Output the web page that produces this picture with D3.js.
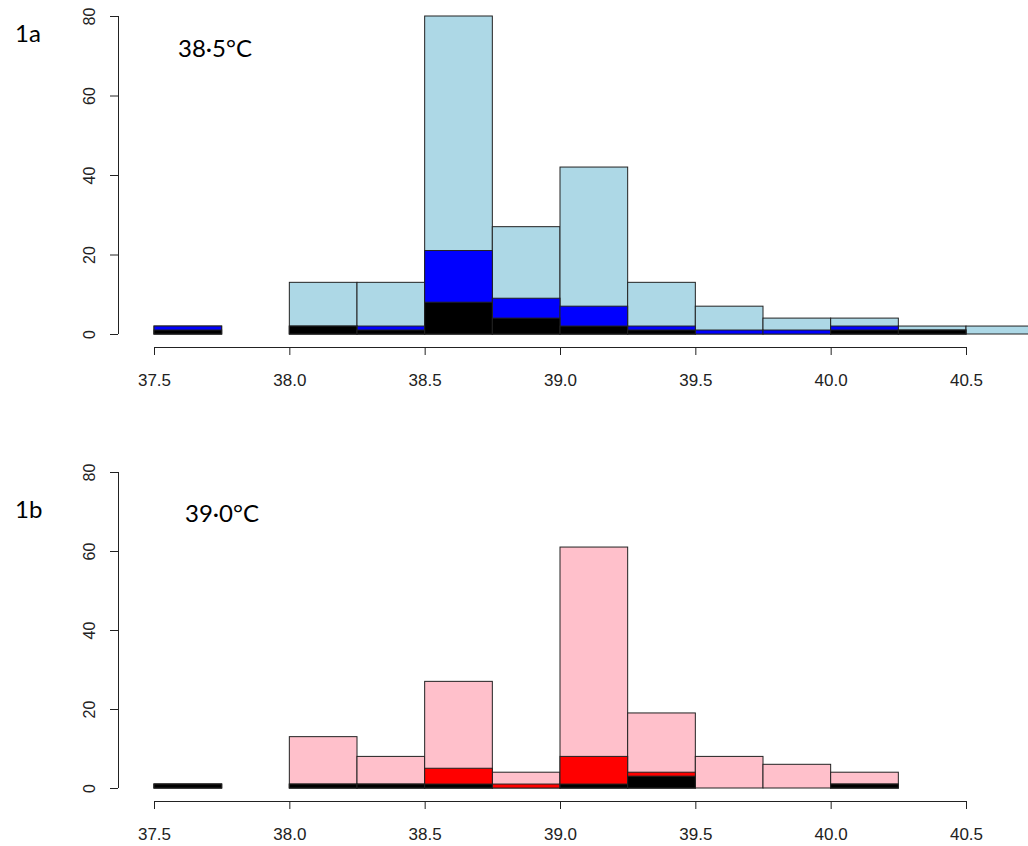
<!DOCTYPE html>
<html>
<head>
<meta charset="utf-8">
<script src="https://cdn.jsdelivr.net/npm/d3@7"></script>
<style>
  body { margin: 0; background: #fff; }
  svg { display: block; }
</style>
</head>
<body>
<div id="chart-container"></div>
<script>
// bins are 0.25 wide, starting at 37.5
var binStarts = [37.5, 37.75, 38.0, 38.25, 38.5, 38.75, 39.0, 39.25, 39.5, 39.75, 40.0, 40.25, 40.5];
var binWidth = 0.25;

// 1a: 38.5 threshold
var totalA = [2, 0, 13, 13, 80, 27, 42, 13, 7, 4, 4, 2, 2];
var blueA  = [2, 0, 2, 2, 21, 9, 7, 2, 1, 1, 2, 1, 0];
var blackA = [1, 0, 2, 1, 8, 4, 2, 1, 0, 0, 1, 1, 0];

// 1b: 39.0 threshold
var totalB = [1, 0, 13, 8, 27, 4, 61, 19, 8, 6, 4, 0, 0];
var redB   = [1, 0, 1, 1, 5, 1, 8, 4, 0, 0, 1, 0, 0];
var blackB = [1, 0, 1, 1, 1, 0, 1, 3, 0, 0, 1, 0, 0];

var xTicks = [37.5, 38.0, 38.5, 39.0, 39.5, 40.0, 40.5];
var yTicks = [0, 20, 40, 60, 80];

function translateString(x, y) {
  return 'translate(' + x + ', ' + y + ')';
}

var width = 1028;
var height = 846;

var svg = d3.select('#chart-container').append('svg')
  .attr('width', width)
  .attr('height', height)
  .attr('viewBox', '0 0 ' + width + ' ' + height);

var xScale = d3.scaleLinear()
  .domain([37.5, 40.5])
  .range([154, 966]);

function drawPanel(opts) {
  var yScale = d3.scaleLinear()
    .domain([0, 80])
    .range([opts.bottom, opts.top]);

  var g = svg.append('g');

  opts.layers.forEach(function(layer) {
    g.append('g').selectAll('rect')
      .data(binStarts.map(function(b, i) { return {x0: b, n: layer.values[i]}; }))
      .enter()
      .append('rect')
        .attr('x', function(d) { return xScale(d.x0); })
        .attr('width', function(d) { return xScale(d.x0 + binWidth) - xScale(d.x0); })
        .attr('y', function(d) { return yScale(d.n); })
        .attr('height', function(d) { return yScale(0) - yScale(d.n); })
        .attr('fill', layer.color)
        .attr('stroke', '#222')
        .attr('stroke-width', 1);
  });

  // R style axes: detached from the plot, lines only span the ticks
  var yAxis = d3.axisLeft(yScale)
    .tickValues(yTicks)
    .tickSize(8)
    .tickSizeOuter(0)
    .tickFormat(d3.format('d'));

  var yAxisContainer = svg.append('g')
    .attr('transform', translateString(118, 0))
    .call(yAxis);

  yAxisContainer.select('.domain')
    .attr('d', 'M0.5,' + yScale(0) + 'V' + yScale(80));

  yAxisContainer.selectAll('.tick text')
    .attr('x', 0)
    .attr('y', 0)
    .attr('dy', 0)
    .attr('text-anchor', 'middle')
    .attr('font-size', 16)
    .attr('transform', function() { return translateString(-23, 0) + ' rotate(-90)'; });

  var xAxis = d3.axisBottom(xScale)
    .tickValues(xTicks)
    .tickSize(8)
    .tickSizeOuter(0)
    .tickFormat(d3.format('.1f'));

  var xAxisContainer = svg.append('g')
    .attr('transform', translateString(0, opts.axisY))
    .call(xAxis);

  xAxisContainer.select('.domain')
    .attr('d', 'M' + xScale(37.5) + ',0.5H' + xScale(40.5));

  xAxisContainer.selectAll('.tick text')
    .attr('y', 0)
    .attr('dy', 0)
    .attr('font-size', 17)
    .attr('transform', translateString(0, 39));

  svg.selectAll('.tick text')
    .attr('font-family', '"Liberation Sans", Arial, sans-serif')
    .attr('fill', '#222');
  svg.selectAll('.tick line, .domain')
    .attr('stroke', '#222');

  svg.append('text')
    .attr('x', 15)
    .attr('y', opts.tagY)
    .attr('font-family', 'Lato, "Open Sans", sans-serif')
    .attr('font-size', 24)
    .text(opts.tag);

  svg.append('text')
    .attr('x', opts.labelX)
    .attr('y', opts.labelY)
    .attr('font-family', 'Lato, "Open Sans", sans-serif')
    .attr('font-size', 24)
    .text(opts.label);
}

drawPanel({
  top: 16,
  bottom: 334,
  axisY: 347,
  layers: [
    {values: totalA, color: '#add8e6'},
    {values: blueA, color: '#0000ff'},
    {values: blackA, color: '#000000'}
  ],
  tag: '1a',
  tagY: 42,
  label: '38·5°C',
  labelX: 178,
  labelY: 57
});

drawPanel({
  top: 472,
  bottom: 788,
  axisY: 801,
  layers: [
    {values: totalB, color: '#ffc0cb'},
    {values: redB, color: '#ff0000'},
    {values: blackB, color: '#000000'}
  ],
  tag: '1b',
  tagY: 518,
  label: '39·0°C',
  labelX: 185,
  labelY: 522
});
</script>
</body>
</html>
